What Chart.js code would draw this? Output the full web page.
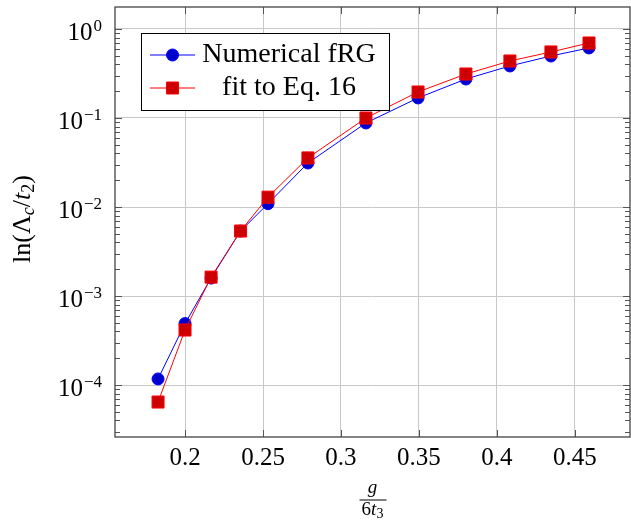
<!DOCTYPE html>
<html>
<head>
<meta charset="utf-8">
<script src="https://cdn.jsdelivr.net/npm/chart.js@4"></script>
<style>
  body { margin: 0; background: #fff; }
  canvas { display: block; }
</style>
</head>
<body>
<canvas id="chart" width="631" height="523"></canvas>
<script>
// values
const gValues = [0.1827, 0.2, 0.2167, 0.2356, 0.2532, 0.2788, 0.316, 0.3494, 0.3801, 0.4083, 0.4346, 0.459];
const numericalFrg = [1.17e-4, 4.9e-4, 1.59e-3, 5.37e-3, 0.0109, 0.0312, 0.0879, 0.168, 0.274, 0.384, 0.497, 0.612];
const fitEq16 = [6.44e-5, 4.15e-4, 1.63e-3, 5.37e-3, 0.0129, 0.0356, 0.100, 0.196, 0.312, 0.437, 0.552, 0.696];

const seriesNames = ['Numerical fRG', 'fit to Eq. 16'];
const xTicks = [0.2, 0.25, 0.3, 0.35, 0.4, 0.45];
const xTickLabels = ['0.2', '0.25', '0.3', '0.35', '0.4', '0.45'];
const yTicks = [1e-4, 1e-3, 1e-2, 1e-1, 1];
const yTickExponents = ['\u22124', '\u22123', '\u22122', '\u22121', '0'];

const SERIF = "'Liberation Serif', 'DejaVu Serif', serif";

function toPoints(xs, ys) {
    return xs.map((x, i) => ({ x: x, y: ys[i] }));
}

// draws a run of text pieces, each with its own font and baseline shift
function drawPieces(ctx, pieces, x, y) {
    let cx = x;
    pieces.forEach(p => {
        ctx.font = p.font;
        ctx.fillText(p.text, cx, y + (p.dy || 0));
        cx += ctx.measureText(p.text).width + (p.gap || 0);
    });
    return cx - x;
}
function piecesWidth(ctx, pieces) {
    let w = 0;
    pieces.forEach(p => { ctx.font = p.font; w += ctx.measureText(p.text).width + (p.gap || 0); });
    return w;
}

const decorations = {
    id: 'decorations',
    afterDraw(chart) {
        const { ctx, chartArea: a, scales: { x, y } } = chart;
        ctx.save();

        // inward tick marks
        ctx.strokeStyle = '#555';
        ctx.lineWidth = 1;
        ctx.beginPath();
        xTicks.forEach(v => {
            const px = Math.round(x.getPixelForValue(v)) + 0.5;
            ctx.moveTo(px, a.bottom); ctx.lineTo(px, a.bottom - 7);
            ctx.moveTo(px, a.top); ctx.lineTo(px, a.top + 7);
        });
        for (let k = -5; k <= 0; k++) {
            for (let m = 1; m <= 9; m++) {
                const v = m * Math.pow(10, k);
                if (v < y.min || v > y.max) continue;
                const len = m === 1 ? 7 : 5;
                const py = Math.round(y.getPixelForValue(v)) + 0.5;
                ctx.moveTo(a.left, py); ctx.lineTo(a.left + len, py);
                ctx.moveTo(a.right, py); ctx.lineTo(a.right - len, py);
            }
        }
        ctx.stroke();

        // frame
        ctx.strokeStyle = '#444';
        ctx.lineWidth = 1.3;
        ctx.strokeRect(a.left, a.top, a.right - a.left, a.bottom - a.top);

        ctx.fillStyle = '#000';
        ctx.textBaseline = 'alphabetic';

        // x tick labels
        ctx.font = '25px ' + SERIF;
        ctx.textAlign = 'center';
        xTicks.forEach((v, i) => {
            ctx.fillText(xTickLabels[i], x.getPixelForValue(v), 465);
        });

        // y tick labels 10^k
        ctx.textAlign = 'right';
        yTicks.forEach((v, i) => {
            const py = y.getPixelForValue(v);
            ctx.font = '17px ' + SERIF;
            const ew = ctx.measureText(yTickExponents[i]).width;
            ctx.fillText(yTickExponents[i], 102, py + 2);
            ctx.font = '25px ' + SERIF;
            ctx.fillText('10', 102 - ew - 1, py + 11);
        });

        // y axis title ln(Λc/t2), rotated
        ctx.textAlign = 'left';
        const yTitle = [
            { text: 'ln(\u039B', font: '26px ' + SERIF },
            { text: 'c', font: 'italic 18px ' + SERIF, dy: 4 },
            { text: '/', font: '26px ' + SERIF },
            { text: 't', font: 'italic 26px ' + SERIF },
            { text: '2', font: '18px ' + SERIF, dy: 4 },
            { text: ')', font: '26px ' + SERIF }
        ];
        ctx.save();
        ctx.translate(30, 219);
        ctx.rotate(-Math.PI / 2);
        drawPieces(ctx, yTitle, -piecesWidth(ctx, yTitle) / 2, 0);
        ctx.restore();

        // x axis title g / 6t3
        const cx = (a.left + a.right) / 2;
        ctx.font = 'italic 19px ' + SERIF;
        ctx.textAlign = 'center';
        ctx.fillText('g', cx, 493);
        ctx.fillRect(cx - 13, 499.5, 27, 1);
        ctx.textAlign = 'left';
        const den = [
            { text: '6', font: '19px ' + SERIF },
            { text: 't', font: 'italic 19px ' + SERIF },
            { text: '3', font: '14px ' + SERIF, dy: 3 }
        ];
        drawPieces(ctx, den, cx - piecesWidth(ctx, den) / 2, 515);

        // legend
        const lx = 141.5, ly = 33.5, lw = 248, lh = 77;
        ctx.fillStyle = '#fff';
        ctx.fillRect(lx, ly, lw, lh);
        ctx.strokeStyle = '#000';
        ctx.lineWidth = 1;
        ctx.strokeRect(lx, ly, lw, lh);
        const rows = [55, 88];
        chart.data.datasets.forEach((ds, i) => {
            const ry = rows[i];
            ctx.strokeStyle = ds.borderColor;
            ctx.lineWidth = 1;
            ctx.beginPath();
            ctx.moveTo(150, ry); ctx.lineTo(195, ry);
            ctx.stroke();
            ctx.fillStyle = ds.pointBackgroundColor;
            ctx.beginPath();
            if (ds.pointStyle === 'circle') {
                ctx.arc(172.5, ry, 6, 0, Math.PI * 2);
            } else {
                ctx.rect(172.5 - 6, ry - 6, 12, 12);
            }
            ctx.fill();
            ctx.stroke();
            ctx.fillStyle = '#000';
            ctx.font = '28px ' + SERIF;
            ctx.textAlign = 'center';
            ctx.textBaseline = 'middle';
            ctx.fillText(ds.label, 289, ry);
        });

        ctx.restore();
    }
};

new Chart(document.getElementById('chart'), {
    type: 'line',
    data: {
        datasets: [
            {
                label: seriesNames[0],
                data: toPoints(gValues, numericalFrg),
                borderColor: '#0000ff',
                borderWidth: 1,
                pointStyle: 'circle',
                pointRadius: 6,
                pointBackgroundColor: '#0000cc',
                pointBorderColor: '#0000ff',
                pointBorderWidth: 1,
                tension: 0,
                order: 1
            },
            {
                label: seriesNames[1],
                data: toPoints(gValues, fitEq16),
                borderColor: '#ff0000',
                borderWidth: 1,
                pointStyle: 'rect',
                pointRadius: 8.5,
                pointBackgroundColor: '#cc0000',
                pointBorderColor: '#ff0000',
                pointBorderWidth: 1,
                tension: 0,
                order: 0
            }
        ]
    },
    options: {
        responsive: false,
        animation: false,
        layout: { autoPadding: false, padding: { left: 115, top: 7, right: 1, bottom: 86 } },
        plugins: { legend: { display: false }, tooltip: { enabled: false } },
        scales: {
            x: {
                type: 'linear',
                min: 0.1551,
                max: 0.4853,
                afterBuildTicks: scale => { scale.ticks = xTicks.map(v => ({ value: v })); },
                ticks: { display: false },
                grid: { color: '#c8c8c8', lineWidth: 1, drawTicks: false },
                border: { display: false }
            },
            y: {
                type: 'logarithmic',
                min: Math.pow(10, -4.584),
                max: Math.pow(10, 0.247),
                afterBuildTicks: scale => { scale.ticks = yTicks.map(v => ({ value: v })); },
                ticks: { display: false },
                grid: { color: '#c8c8c8', lineWidth: 1, drawTicks: false },
                border: { display: false }
            }
        }
    },
    plugins: [decorations]
});
</script>
</body>
</html>
